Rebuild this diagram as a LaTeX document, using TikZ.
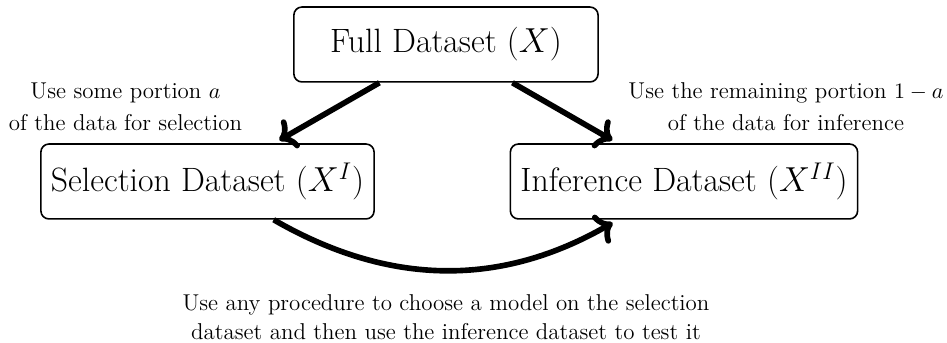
\documentclass[tikz,border=0pt]{standalone}
\usepackage{amsmath, tikz, xcolor}
\usetikzlibrary{arrows.meta}

\begin{document}
\begin{tikzpicture}[
    databox/.style={draw, thick, rounded corners=4pt, font=\fontsize{16.8}{20}\selectfont, minimum height=1.31cm, inner xsep=5pt},
    sidenote/.style={align=center, font=\fontsize{11.4}{15.8}\selectfont},
    bottomnote/.style={align=center, font=\fontsize{11.4}{14.2}\selectfont},
    bigarrow/.style={->, >=To, line width=2.8pt, shorten >=3pt}
    ]
    \useasboundingbox (0,0) rectangle (16.563,-5.999);
    \node [databox, minimum width=5.32cm] (full) at (7.80,-0.778) {Full Dataset ($X$)};
    \node [databox] (sel) at (3.629,-3.174) {Selection Dataset ($X^{I}$)};
    \node [databox] (inf) at (11.963,-3.174) {Inference Dataset ($X^{II}$)};
    \node [sidenote] (selnote) at (2.195,-1.87) {Use some portion $a$\\of the data for selection};
    \node [sidenote] (infnote) at (13.747,-1.87) {Use the remaining portion $1-a$\\of the data for inference};
    \node [bottomnote] (procnote) at (7.80,-5.55) {Use any procedure to choose a model on the selection\\dataset and then use the inference dataset to test it};
    \draw [bigarrow] (full) -- (sel);
    \draw [bigarrow] (full) -- (inf);
    \draw [bigarrow] (sel) to [bend right] (inf);
\end{tikzpicture}
\end{document}
